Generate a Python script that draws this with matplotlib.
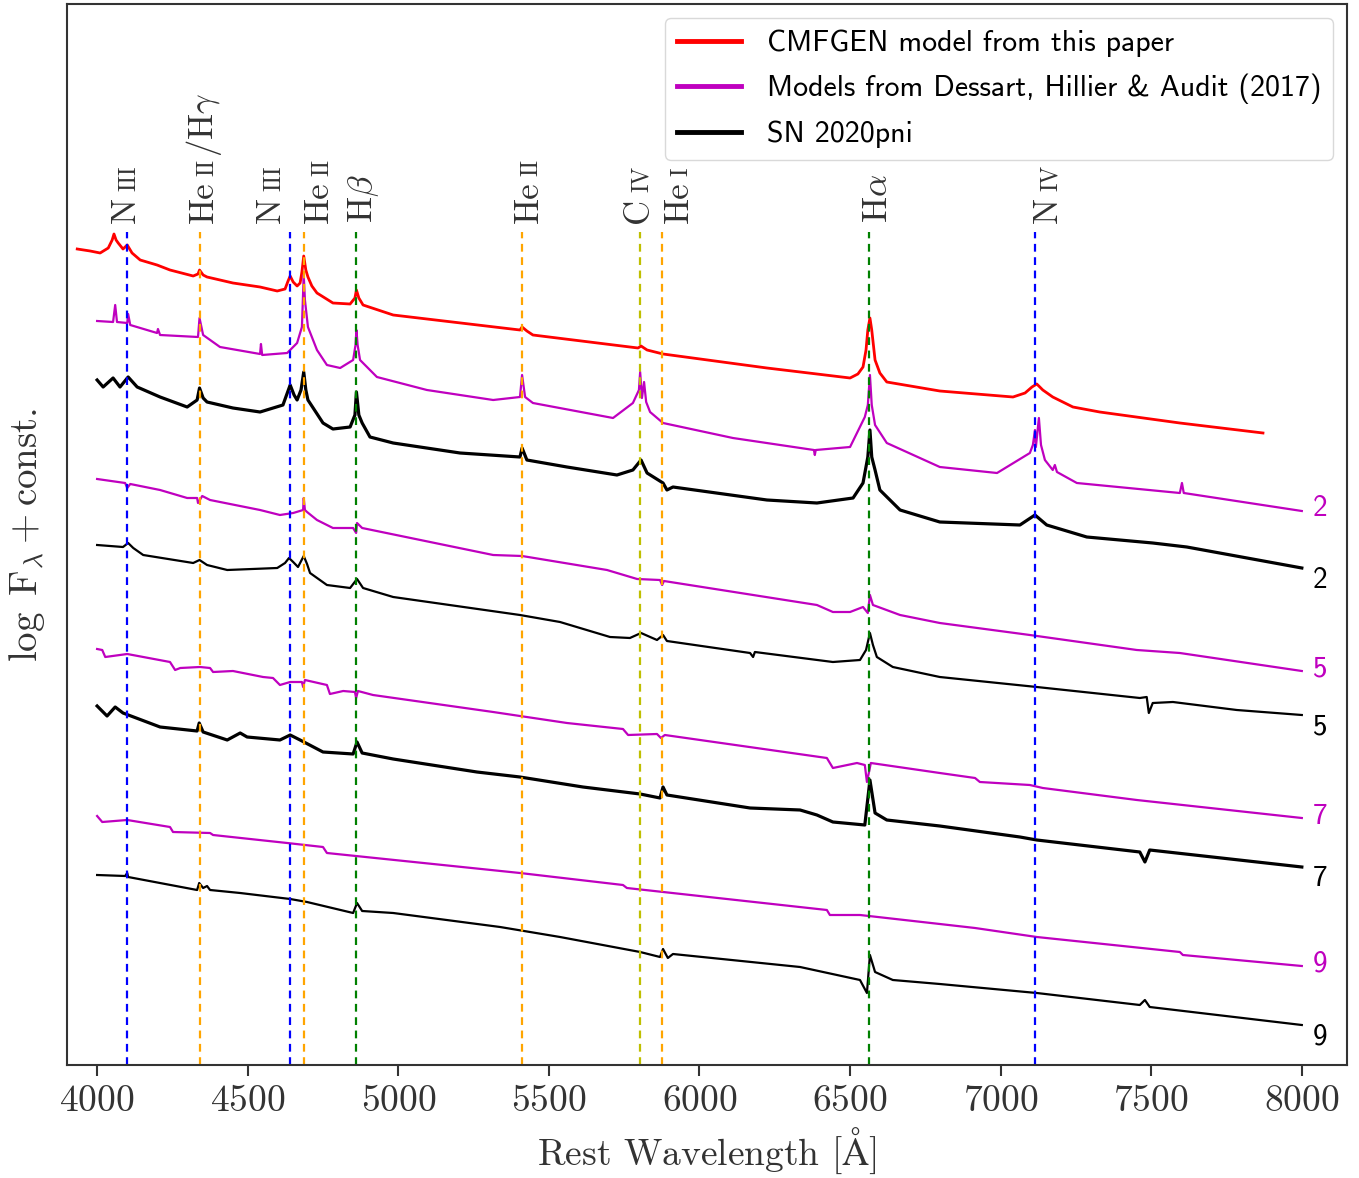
import numpy as np
import matplotlib.pyplot as plt

plt.rcParams['font.family'] = 'serif'
plt.rcParams['font.serif'] = ['cmr10']
plt.rcParams['mathtext.fontset'] = 'cm'
plt.rcParams['axes.formatter.use_mathtext'] = True

# CMFGEN model (this paper)
cmfgen_wave = [3934, 3977, 4010, 4037, 4050, 4056, 4063, 4070, 4086, 4100, 4116, 4143, 4199, 4242, 4319, 4335,
               4340, 4352, 4365, 4451, 4541, 4598, 4624, 4634, 4641, 4651, 4664, 4674, 4680, 4686, 4693, 4700,
               4713, 4730, 4783, 4840, 4856, 4861, 4869, 4883, 4983, 5404, 5411, 5427, 5447, 5796, 5806, 5826,
               5879, 6224, 6390, 6500, 6526, 6543, 6553, 6559, 6566, 6572, 6583, 6599, 6622, 6798, 7041, 7081,
               7104, 7120, 7140, 7173, 7240, 7329, 7595, 7871]
cmfgen_flux = [8.16, 8.14, 8.12, 8.17, 8.25, 8.31, 8.25, 8.22, 8.16, 8.20, 8.12, 8.05, 8.00, 7.95, 7.89, 7.91,
               7.95, 7.90, 7.88, 7.82, 7.78, 7.74, 7.76, 7.84, 7.89, 7.83, 7.79, 7.82, 7.93, 8.09, 7.95, 7.88,
               7.79, 7.72, 7.62, 7.61, 7.67, 7.75, 7.67, 7.60, 7.50, 7.35, 7.38, 7.34, 7.30, 7.17, 7.19, 7.15,
               7.11, 6.97, 6.91, 6.87, 6.91, 6.98, 7.15, 7.35, 7.47, 7.35, 7.05, 6.92, 6.83, 6.74, 6.68, 6.72,
               6.78, 6.81, 6.75, 6.68, 6.58, 6.53, 6.42, 6.32]

# Dessart, Hillier & Audit (2017) models, day 2 / 5 / 7 / 9
d2_wave = [4000, 4053, 4060, 4066, 4100, 4103, 4110, 4199, 4202, 4209, 4335, 4340, 4352, 4408, 4541, 4544,
           4548, 4631, 4664, 4680, 4686, 4690, 4700, 4730, 4763, 4807, 4850, 4858, 4861, 4865, 4873, 4929,
           5095, 5315, 5404, 5411, 5421, 5447, 5713, 5779, 5799, 5803, 5809, 5816, 5823, 5836, 5879, 6111,
           6380, 6383, 6386, 6500, 6549, 6559, 6566, 6572, 6583, 6622, 6798, 6988, 7097, 7107, 7114, 7117,
           7127, 7134, 7147, 7173, 7180, 7187, 7253, 7595, 7602, 7608, 8000]
d2_flux = [7.44, 7.43, 7.60, 7.43, 7.42, 7.51, 7.40, 7.32, 7.36, 7.30, 7.28, 7.47, 7.30, 7.18, 7.11, 7.21,
           7.10, 7.12, 7.22, 7.38, 7.90, 7.65, 7.38, 7.15, 7.00, 6.97, 7.05, 7.20, 7.35, 7.20, 7.05, 6.88,
           6.75, 6.65, 6.68, 6.90, 6.68, 6.62, 6.47, 6.62, 6.75, 6.93, 6.67, 6.83, 6.63, 6.53, 6.42, 6.27,
           6.15, 6.10, 6.15, 6.18, 6.48, 6.60, 6.90, 6.60, 6.40, 6.22, 5.98, 5.92, 6.12, 6.20, 6.35, 6.18,
           6.47, 6.20, 6.05, 5.95, 6.00, 5.93, 5.82, 5.72, 5.82, 5.72, 5.54]

d5_wave = [4000, 4093, 4100, 4110, 4209, 4299, 4332, 4335, 4349, 4375, 4541, 4607, 4651, 4684, 4686, 4690,
           4697, 4730, 4783, 4850, 4860, 4863, 4880, 5315, 5411, 5693, 5793, 5869, 5876, 5882, 6390, 6443,
           6500, 6543, 6559, 6566, 6576, 6666, 6798, 7097, 7452, 7595, 8000]
d5_flux = [5.86, 5.82, 5.77, 5.81, 5.75, 5.67, 5.67, 5.62, 5.69, 5.65, 5.55, 5.50, 5.52, 5.55, 5.67, 5.55,
           5.53, 5.45, 5.37, 5.37, 5.32, 5.42, 5.37, 5.10, 5.09, 4.95, 4.86, 4.85, 4.80, 4.84, 4.60, 4.53,
           4.53, 4.58, 4.52, 4.70, 4.60, 4.50, 4.42, 4.30, 4.15, 4.12, 3.94]

d7_wave = [4000, 4017, 4027, 4100, 4242, 4259, 4276, 4342, 4375, 4385, 4451, 4551, 4584, 4607, 4641, 4680,
           4684, 4690, 4763, 4773, 4817, 4856, 4860, 4866, 4916, 5315, 5560, 5746, 5763, 5859, 5872, 5885,
           6423, 6443, 6523, 6549, 6556, 6569, 6798, 6915, 6931, 7097, 7140, 7452, 8000]
d7_flux = [4.16, 4.15, 4.08, 4.11, 4.03, 3.95, 3.97, 3.98, 3.97, 3.93, 3.94, 3.88, 3.87, 3.80, 3.83, 3.83,
           3.78, 3.85, 3.80, 3.71, 3.74, 3.73, 3.67, 3.74, 3.70, 3.53, 3.42, 3.36, 3.30, 3.31, 3.27, 3.30,
           3.07, 2.97, 3.02, 3.00, 2.83, 3.02, 2.92, 2.87, 2.83, 2.80, 2.77, 2.65, 2.47]

d9_wave = [4000, 4017, 4100, 4242, 4252, 4375, 4385, 4631, 4750, 4763, 5404, 5746, 5759, 6423, 6433, 6533,
           6798, 6915, 7120, 7595, 7605, 8000]
d9_flux = [2.49, 2.43, 2.45, 2.38, 2.33, 2.32, 2.30, 2.22, 2.18, 2.12, 1.92, 1.80, 1.77, 1.55, 1.50, 1.50,
           1.41, 1.37, 1.28, 1.13, 1.10, 0.99]

# SN 2020pni spectra, day 2 / 5 / 7 / 9
sn2_wave = [4000, 4020, 4053, 4076, 4103, 4133, 4209, 4299, 4332, 4340, 4352, 4365, 4451, 4541, 4617, 4641,
            4654, 4664, 4677, 4686, 4693, 4700, 4750, 4783, 4840, 4856, 4861, 4869, 4880, 4906, 4983, 5205,
            5404, 5411, 5427, 5560, 5726, 5779, 5806, 5826, 5879, 5892, 5912, 6224, 6390, 6510, 6543, 6559,
            6566, 6572, 6583, 6599, 6666, 6798, 7064, 7114, 7153, 7286, 7505, 7618, 8000]
sn2_flux = [6.85, 6.78, 6.87, 6.78, 6.88, 6.78, 6.68, 6.58, 6.65, 6.77, 6.67, 6.63, 6.57, 6.53, 6.60, 6.80,
            6.70, 6.65, 6.75, 6.93, 6.75, 6.65, 6.42, 6.36, 6.38, 6.50, 6.73, 6.50, 6.42, 6.28, 6.22, 6.12,
            6.08, 6.17, 6.05, 5.98, 5.90, 5.95, 6.05, 5.92, 5.82, 5.75, 5.78, 5.65, 5.62, 5.67, 5.82, 6.08,
            6.35, 6.08, 5.95, 5.75, 5.55, 5.43, 5.40, 5.50, 5.40, 5.28, 5.22, 5.18, 4.97]

sn5_wave = [4000, 4086, 4103, 4120, 4153, 4319, 4340, 4365, 4432, 4598, 4624, 4637, 4651, 4667, 4686, 4697,
            4707, 4763, 4840, 4863, 4883, 4983, 5404, 5537, 5703, 5769, 5806, 5859, 5879, 5892, 6168, 6178,
            6184, 6443, 6533, 6553, 6566, 6576, 6589, 6642, 6798, 7120, 7462, 7485, 7492, 7505, 7572, 7784,
            8000]
sn5_flux = [5.20, 5.18, 5.22, 5.17, 5.10, 5.02, 5.05, 5.00, 4.95, 4.97, 5.02, 5.07, 5.03, 4.98, 5.09, 5.01,
            4.92, 4.80, 4.77, 4.86, 4.77, 4.68, 4.50, 4.43, 4.28, 4.27, 4.32, 4.25, 4.30, 4.24, 4.12, 4.08,
            4.13, 4.03, 4.05, 4.15, 4.32, 4.20, 4.08, 3.98, 3.88, 3.78, 3.67, 3.68, 3.52, 3.62, 3.63, 3.55,
            3.50]

sn7_wave = [4000, 4033, 4060, 4086, 4209, 4332, 4339, 4352, 4432, 4475, 4498, 4607, 4641, 4674, 4750, 4850,
            4863, 4880, 4983, 5261, 5404, 5613, 5803, 5869, 5879, 5892, 6168, 6334, 6390, 6443, 6549, 6566,
            6583, 6622, 6798, 7064, 7120, 7462, 7479, 7495, 8000]
sn7_flux = [3.59, 3.49, 3.58, 3.52, 3.38, 3.34, 3.42, 3.33, 3.25, 3.32, 3.28, 3.25, 3.30, 3.25, 3.13, 3.11,
            3.23, 3.12, 3.06, 2.93, 2.88, 2.78, 2.71, 2.67, 2.78, 2.70, 2.57, 2.55, 2.50, 2.43, 2.40, 2.85,
            2.52, 2.45, 2.39, 2.28, 2.25, 2.13, 2.03, 2.15, 1.98]

sn9_wave = [4000, 4093, 4100, 4103, 4332, 4339, 4352, 4365, 4375, 4475, 4641, 4697, 4850, 4863, 4880, 4983,
            5338, 5537, 5803, 5869, 5879, 5895, 5912, 6334, 6533, 6556, 6566, 6583, 6642, 6798, 7120, 7462,
            7479, 7495, 8000]
sn9_flux = [1.90, 1.89, 1.92, 1.88, 1.75, 1.82, 1.77, 1.79, 1.75, 1.72, 1.66, 1.63, 1.52, 1.62, 1.54, 1.52,
            1.38, 1.28, 1.13, 1.08, 1.16, 1.07, 1.11, 0.98, 0.85, 0.72, 1.10, 0.93, 0.85, 0.81, 0.72, 0.60,
            0.65, 0.58, 0.40]

epochs = ['2', '5', '7', '9']

# line identifications
line_waves = [4100, 4340, 4640, 4686, 4861, 5411, 5801, 5876, 6563, 7115]
line_colors = ['b', 'orange', 'b', 'orange', 'g', 'orange', 'y', 'orange', 'g', 'b']
line_labels = [
    [('N', 'big'), ('III', 'small')],
    [('He', 'big'), ('II', 'small'), ('/H$\\gamma$', 'big')],
    [('N', 'big'), ('III', 'small')],
    [('He', 'big'), ('II', 'small')],
    [('H$\\beta$', 'big')],
    [('He', 'big'), ('II', 'small')],
    [('C', 'big'), ('IV', 'small')],
    [('He', 'big'), ('I', 'small')],
    [('H$\\alpha$', 'big')],
    [('N', 'big'), ('IV', 'small')],
]
# where the text baseline sits (some labels are nudged off their line)
label_x = [4126, 4385, 4607, 4767, 4913, 5462, 5829, 5960, 6622, 7187]

fig, ax = plt.subplots(figsize=(13.59, 11.78), dpi=100)
fig.subplots_adjust(left=67/1359, right=1347/1359, top=1-4/1178, bottom=1-1065/1178)

ax.plot(cmfgen_wave, cmfgen_flux, color='r', lw=2.0, label='CMFGEN model from this paper')

model_sets = [(d2_wave, d2_flux), (d5_wave, d5_flux), (d7_wave, d7_flux), (d9_wave, d9_flux)]
sn_sets = [(sn2_wave, sn2_flux), (sn5_wave, sn5_flux), (sn7_wave, sn7_flux), (sn9_wave, sn9_flux)]
sn_widths = [2.3, 1.6, 2.3, 1.6]

for i, ((mw, mf), (sw, sf)) in enumerate(zip(model_sets, sn_sets)):
    ax.plot(mw, mf, color='m', lw=1.6,
            label='Models from Dessart, Hillier & Audit (2017)' if i == 0 else None)
    ax.plot(sw, sf, color='k', lw=sn_widths[i], label='SN 2020pni' if i == 0 else None)
    ax.text(mw[-1] + 60, mf[-1] + 0.02, epochs[i], color='m', family='cmss10', fontsize=21,
            ha='center', va='center')
    ax.text(sw[-1] + 60, sf[-1] - 0.12, epochs[i], color='k', family='cmss10', fontsize=21,
            ha='center', va='center')

ax.set_xlim(3900, 8150)
ax.set_ylim(0, 10.61)

line_top = 8.33
for w, c in zip(line_waves, line_colors):
    ax.plot([w, w], [0, line_top], color=c, ls='--', lw=1.6, dashes=(3.5, 2.5))

fig.canvas.draw()
renderer = fig.canvas.get_renderer()
sizes = {'big': 25, 'small': 17}
for x, parts in zip(label_x, line_labels):
    offset = 0.0
    for k, (txt, kind) in enumerate(parts):
        t = ax.annotate(txt, xy=(x, 8.42), xycoords='data', xytext=(0, offset),
                        textcoords='offset points', rotation=90, rotation_mode='anchor',
                        ha='left', va='baseline', fontsize=sizes[kind], color='0.2',
                        annotation_clip=False)
        bb = t.get_window_extent(renderer)
        gap = 4.0 if kind == 'big' and k + 1 < len(parts) and parts[k + 1][1] == 'small' else 1.0
        offset += bb.height * 72 / fig.dpi + gap

ax.set_xticks(np.arange(4000, 8001, 500))
ax.set_yticks([])
ax.tick_params(axis='x', direction='out', length=8, width=1.5, labelsize=27, pad=6,
               color='0.2', labelcolor='0.2')
for s in ax.spines.values():
    s.set_linewidth(1.5)
    s.set_color('0.2')

ax.set_xlabel(r'Rest Wavelength [$\mathrm{\AA}$]', fontsize=27, color='0.2', labelpad=6)
ax.set_ylabel(r'$\log\ \mathrm{F}_\lambda + \mathrm{const.}$', fontsize=28, color='0.2')
ax.yaxis.set_label_coords(-0.016, 0.5)

leg = ax.legend(loc='upper right', prop={'family': 'cmss10', 'size': 21.5}, handlelength=2.15,
                handletextpad=0.84, borderaxespad=0.47, fancybox=True, framealpha=1,
                edgecolor='0.85', labelspacing=0.55)
for h in leg.get_lines():
    h.set_linewidth(3.5)

fig.savefig('out.png', dpi=100)
